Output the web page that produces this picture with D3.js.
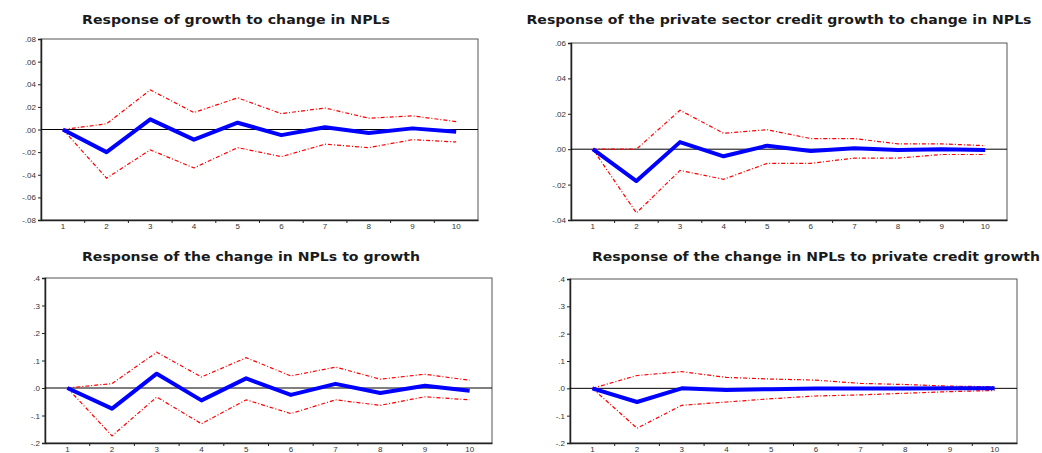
<!DOCTYPE html>
<html>
<head>
<meta charset="utf-8">
<script src="https://cdn.jsdelivr.net/npm/d3@7"></script>
<style>
  html, body { margin: 0; padding: 0; background: #fff; overflow: hidden; }
  svg { display: block; }
</style>
</head>
<body>
<div id="app"></div>
<script>
// 期数
const periods = [1, 2, 3, 4, 5, 6, 7, 8, 9, 10];

// 1: growth -> change in NPLs
const growthResp  = [0, -0.020, 0.009, -0.009, 0.006, -0.005, 0.002, -0.003, 0.001, -0.002];
const growthUpper = [0, 0.005, 0.035, 0.015, 0.028, 0.014, 0.019, 0.010, 0.012, 0.007];
const growthLower = [0, -0.043, -0.018, -0.034, -0.016, -0.024, -0.013, -0.016, -0.009, -0.011];

// 2: private sector credit growth -> change in NPLs
const creditResp  = [0, -0.018, 0.004, -0.004, 0.002, -0.001, 0.0005, -0.0005, 0, -0.0005];
const creditUpper = [0, 0.000, 0.022, 0.009, 0.011, 0.006, 0.006, 0.003, 0.003, 0.002];
const creditLower = [0, -0.036, -0.012, -0.017, -0.008, -0.008, -0.005, -0.005, -0.003, -0.003];

// 3: change in NPLs -> growth
const nplGrowthResp  = [0, -0.075, 0.052, -0.045, 0.035, -0.025, 0.015, -0.018, 0.008, -0.010];
const nplGrowthUpper = [0, 0.016, 0.130, 0.040, 0.110, 0.044, 0.076, 0.032, 0.050, 0.028];
const nplGrowthLower = [0, -0.174, -0.033, -0.130, -0.043, -0.093, -0.043, -0.063, -0.032, -0.043];

// 4: change in NPLs -> private credit growth
const nplCreditResp  = [0, -0.050, 0.000, -0.006, -0.003, -0.001, -0.001, -0.001, 0.000, 0.000];
const nplCreditUpper = [0, 0.047, 0.061, 0.040, 0.034, 0.030, 0.018, 0.014, 0.008, 0.006];
const nplCreditLower = [0, -0.146, -0.062, -0.050, -0.038, -0.028, -0.024, -0.018, -0.012, -0.008];

// 标题
const titles = [
  'Response of growth to change in NPLs',
  'Response of the private sector credit growth to change in NPLs',
  'Response of the change in NPLs to growth',
  'Response of the change in NPLs to private credit growth'
];

// y轴刻度
const ticksTop1 = [-0.08, -0.06, -0.04, -0.02, 0, 0.02, 0.04, 0.06, 0.08];
const ticksTop2 = [-0.04, -0.02, 0, 0.02, 0.04, 0.06];
const ticksBottom = [-0.2, -0.1, 0, 0.1, 0.2, 0.3, 0.4];

const width = 1042, height = 453;

// 每个面板的位置
const panels = [
  { box: [41, 39, 478, 220], domain: [-0.08, 0.08], ticks: ticksTop1, digits: 2,
    resp: growthResp, upper: growthUpper, lower: growthLower,
    title: titles[0], tx: 236, ty: 24, tw: 308 },
  { box: [571, 43, 1007, 220], domain: [-0.04, 0.06], ticks: ticksTop2, digits: 2,
    resp: creditResp, upper: creditUpper, lower: creditLower,
    title: titles[1], tx: 779, ty: 24, tw: 505 },
  { box: [45, 278, 492, 443], domain: [-0.2, 0.4], ticks: ticksBottom, digits: 1,
    resp: nplGrowthResp, upper: nplGrowthUpper, lower: nplGrowthLower,
    title: titles[2], tx: 251, ty: 261, tw: 338 },
  { box: [570, 279, 1017, 443], domain: [-0.2, 0.4], ticks: ticksBottom, digits: 1,
    resp: nplCreditResp, upper: nplCreditUpper, lower: nplCreditLower,
    title: titles[3], tx: 816, ty: 261, tw: 448 }
];

const svg = d3.select('#app').append('svg')
  .attr('width', width)
  .attr('height', height);

// EViews 风格的刻度: .08, -.02
const fmt = (d, digits) => {
  let s = Math.abs(d).toFixed(digits).replace(/^0/, '');
  return (d < -1e-9 ? '-' : '') + s;
};

const drawPanel = (p) => {
  const [x0, y0, x1, y1] = p.box;
  const g = svg.append('g');

  const xBand = d3.scaleBand().domain(periods).range([x0, x1]);
  const xScale = (d) => xBand(d) + xBand.bandwidth() / 2;
  const yScale = d3.scaleLinear().domain(p.domain).range([y1, y0]);

  // 标题
  g.append('text')
    .attr('x', p.tx).attr('y', p.ty)
    .attr('text-anchor', 'middle')
    .attr('textLength', p.tw)
    .attr('lengthAdjust', 'spacingAndGlyphs')
    .style('font-family', 'DejaVu Sans, Verdana, sans-serif')
    .style('font-weight', 'bold')
    .style('font-size', '11.5px')
    .style('fill', '#1a1a1a')
    .text(p.title);

  // 边框
  g.append('rect')
    .attr('x', x0).attr('y', y0)
    .attr('width', x1 - x0).attr('height', y1 - y0)
    .attr('fill', 'none')
    .attr('stroke', '#555').attr('stroke-width', 1);

  // y轴
  const yAxis = d3.axisLeft(yScale)
    .tickValues(p.ticks)
    .tickSize(3)
    .tickFormat((d) => fmt(d, p.digits));
  const ya = g.append('g')
    .attr('transform', `translate(${x0},0)`)
    .call(yAxis);
  ya.select('.domain').attr('stroke', '#222').attr('stroke-width', 1.5);
  ya.selectAll('.tick line').attr('stroke', '#222');
  ya.selectAll('.tick text')
    .attr('x', -5)
    .style('font-family', 'Liberation Sans, Arial, sans-serif')
    .style('font-size', '8px')
    .style('fill', '#333');

  // x轴
  const xAxis = d3.axisBottom(xBand).tickSize(0).tickPadding(3);
  const xa = g.append('g')
    .attr('transform', `translate(0,${y1})`)
    .call(xAxis);
  xa.select('.domain').attr('stroke', '#222').attr('stroke-width', 1.5);
  xa.selectAll('.tick text')
    .style('font-family', 'Liberation Sans, Arial, sans-serif')
    .style('font-size', '8px')
    .style('fill', '#333');
  // 类别之间的刻度
  g.selectAll('.sep')
    .data(periods.slice(1))
    .enter()
    .append('line')
    .attr('x1', (d) => xBand(d)).attr('x2', (d) => xBand(d))
    .attr('y1', y1).attr('y2', y1 + 3)
    .attr('stroke', '#222');

  // 零线
  g.append('line')
    .attr('x1', x0).attr('x2', x1)
    .attr('y1', yScale(0)).attr('y2', yScale(0))
    .attr('stroke', '#000').attr('stroke-width', 1);

  const line = d3.line()
    .x((d, i) => xScale(periods[i]))
    .y((d) => yScale(d));

  [p.upper, p.lower].forEach((band) => {
    g.append('path')
      .datum(band)
      .attr('d', line)
      .attr('fill', 'none')
      .attr('stroke', '#ff0000')
      .attr('stroke-width', 1.2)
      .attr('stroke-dasharray', '4,2,1,2');
  });

  g.append('path')
    .datum(p.resp)
    .attr('d', line)
    .attr('fill', 'none')
    .attr('stroke', '#0000ff')
    .attr('stroke-width', 4)
    .attr('stroke-linejoin', 'round');
};

panels.forEach(drawPanel);
</script>
</body>
</html>
